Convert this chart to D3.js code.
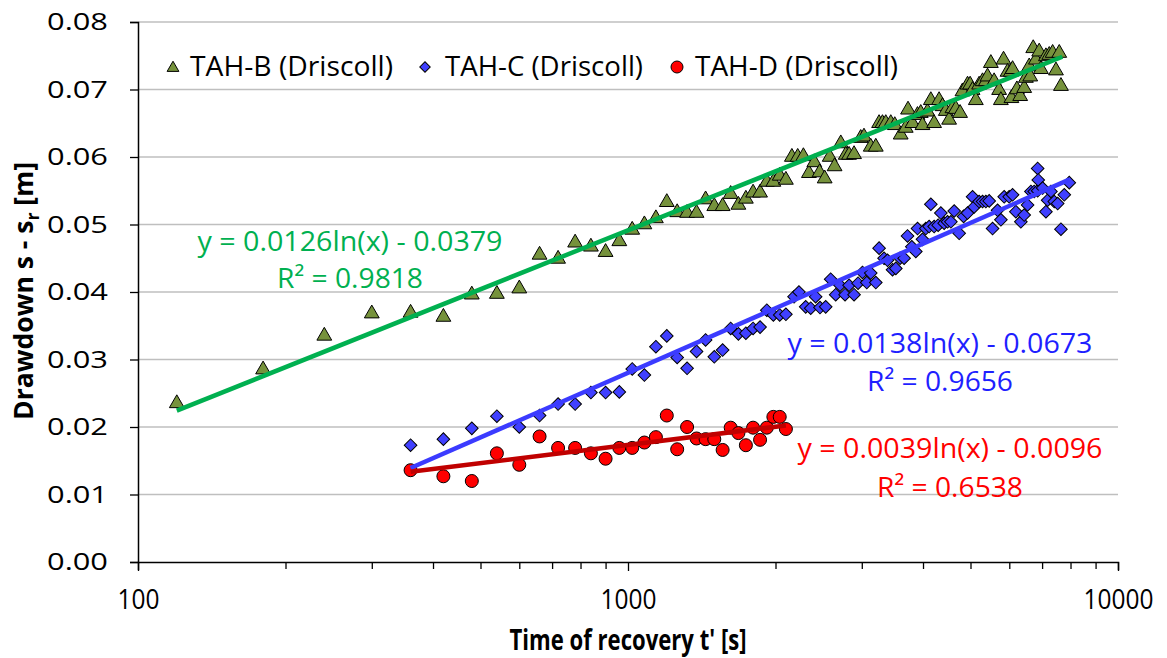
<!DOCTYPE html>
<html><head><meta charset="utf-8">
<script src="https://cdn.jsdelivr.net/npm/d3@7"></script>
<style>body{margin:0;background:#fff}svg{display:block}text{font-family:"Open Sans",sans-serif}</style>
</head><body><svg id="c" width="1167" height="658"></svg>
<script>
const seriesNames = ["TAH-B (Driscoll)", "TAH-C (Driscoll)", "TAH-D (Driscoll)"];

const tahBTime = [120,180,240,300,360,420,480,540,600,660,720,780,840,900,960,1020,1080,1140,1200,1260,1320,1380,1440,1500,1560,1620,1680,1740,1800,1860,1920,1980,2040,2100,2160,2220,2280,2340,2400,2460,2520,2580,2640,
  2718,2782,2826,2893,2985,3031,3129,3204,3254,3306,3358,3438,3503,3602,3688,3728,3806,3897,3958,3990,4085,4150,4214,4314,4384,4452,4522,4594,4667,4761,4815,4931,4991,5048,5127,5207,5291,5374,5417,5502,5587,5720,5767,5840,5951,6044,6093,6060,6218,6315,6435,6487,6589,6620,6714,6799,6905,6961,7127,7239,7355,7471,7588,7648];
const tahBDrawdown = [0.0235,0.0285,0.0335,0.0368,0.0369,0.0363,0.0396,0.0397,0.0405,0.0455,0.0449,0.0473,0.0467,0.0459,0.0475,0.0492,0.0500,0.0509,0.0533,0.0518,0.0517,0.0517,0.0537,0.0527,0.0527,0.0545,0.0529,0.0538,0.0547,0.0547,0.0563,0.0563,0.0572,0.0566,0.0600,0.0600,0.0601,0.0576,0.0592,0.0577,0.0568,0.0600,0.0586,
  0.0620,0.0603,0.0603,0.0604,0.0628,0.0630,0.0615,0.0615,0.0650,0.0650,0.0650,0.0650,0.0647,0.0633,0.0643,0.0670,0.0650,0.0662,0.0665,0.0647,0.0667,0.0684,0.0650,0.0684,0.0675,0.0668,0.0655,0.0672,0.0671,0.0665,0.0697,0.0707,0.0707,0.0699,0.0684,0.0707,0.0712,0.0712,0.0719,0.0739,0.0712,0.0699,0.0684,0.0744,0.0726,0.0726,0.0730,0.0687,0.0700,0.0690,0.0702,0.0717,0.0734,0.0719,0.0761,0.0744,0.0756,0.0730,0.0749,0.0751,0.0754,0.0728,0.0754,0.0705];

const tahCTime = [360,420,480,540,600,660,720,780,840,900,960,1020,1080,1140,1200,1260,1320,1380,1440,1500,1560,1620,1680,1740,1800,1860,1920,1980,2040,2100,2182,2233,2305,2360,2415,2465,2532,2592,2654,2708,2773,2826,2893,2948,3010,3071,3129,3204,3254,3331,3385,3466,3520,3592,3660,3719,3795,3867,3898,3990,4053,4117,4150,4215,4295,4350,4418,4489,4560,4631,4741,4840,4932,5049,5086,5207,5291,5374,5459,5546,5678,5768,5858,5997,6093,6188,6335,6435,6538,6642,6745,6855,6855,6874,7018,7127,7185,7297,7412,7531,7648,7769,7953];
const tahCDrawdown = [0.0173,0.0182,0.0198,0.0216,0.0200,0.0217,0.0234,0.0234,0.0251,0.0251,0.0252,0.0286,0.0277,0.0319,0.0335,0.0303,0.0287,0.0312,0.0329,0.0304,0.0314,0.0346,0.0338,0.0339,0.0346,0.0348,0.0373,0.0366,0.0366,0.0367,0.0393,0.0400,0.0378,0.0376,0.0393,0.0377,0.0378,0.0419,0.0396,0.0410,0.0396,0.0410,0.0396,0.0413,0.0429,0.0414,0.0428,0.0414,0.0465,0.0450,0.0447,0.0433,0.0435,0.0450,0.0450,0.0483,0.0467,0.0460,0.0494,0.0478,0.0494,0.0497,0.0530,0.0497,0.0499,0.0517,0.0502,0.0504,0.0504,0.0520,0.0487,0.0512,0.0517,0.0541,0.0526,0.0534,0.0534,0.0534,0.0535,0.0494,0.0521,0.0507,0.0541,0.0541,0.0544,0.0519,0.0504,0.0514,0.0529,0.0549,0.0549,0.0550,0.0583,0.0566,0.0554,0.0519,0.0536,0.0549,0.0534,0.0531,0.0493,0.0544,0.0562];

const tahDTime = [360,420,480,540,600,660,720,780,840,900,960,1020,1080,1140,1200,1260,1320,1380,1440,1500,1560,1620,1680,1740,1800,1860,1920,1980,2040,2100];
const tahDDrawdown = [0.0136,0.0127,0.0120,0.0161,0.0144,0.0186,0.0169,0.0169,0.0161,0.0153,0.0169,0.0169,0.0177,0.0185,0.0217,0.0167,0.0200,0.0183,0.0182,0.0182,0.0166,0.0199,0.0191,0.0173,0.0199,0.0181,0.0199,0.0215,0.0215,0.0197];

const fitSlope = [0.0126, 0.0138, 0.0039];
const fitIntercept = [-0.0379, -0.0673, -0.0096];
const fitRange = [[120, 7700], [360, 7953], [360, 2100]];
const fitEquation = ["y = 0.0126ln(x) - 0.0379", "y = 0.0138ln(x) - 0.0673", "y = 0.0039ln(x) - 0.0096"];
const fitR2 = ["R² = 0.9818", "R² = 0.9656", "R² = 0.6538"];

const yTicks = [0, 0.01, 0.02, 0.03, 0.04, 0.05, 0.06, 0.07, 0.08];
const xMajorTicks = [100, 1000, 10000];
const xTickLabels = ["100", "1000", "10000"];
const xMinorTicks = [200,300,400,500,600,700,800,900,2000,3000,4000,5000,6000,7000,8000,9000];

const svg = d3.select("#c");
svg.append("rect").attr("width",1167).attr("height",658).attr("fill","#fff");

const x = d3.scaleLog().domain([100, 10000]).range([138, 1118]);
const y = d3.scaleLinear().domain([0, 0.08]).range([562, 22]);

// gridlines
svg.append("g").selectAll("line").data(yTicks.filter(d => d > 0)).join("line")
  .attr("x1", 138).attr("x2", 1118).attr("y1", d => y(d)).attr("y2", d => y(d))
  .attr("stroke", "#BFBFBF").attr("stroke-width", 1.5);

// y axis
const yAxis = svg.append("g").attr("transform", "translate(138,0)")
  .call(d3.axisLeft(y).tickValues(yTicks).tickFormat(d3.format(".2f")).tickSize(8).tickPadding(22));
yAxis.select(".domain").attr("stroke", "#000").attr("stroke-width", 1.5);
yAxis.selectAll(".tick line").attr("stroke", "#000").attr("stroke-width", 1.3);
yAxis.selectAll(".tick text").attr("font-size", 24).attr("fill", "#000")
  .attr("font-family", "'Open Sans', sans-serif")
  .attr("textLength", 61).attr("lengthAdjust", "spacingAndGlyphs");

// x axis
const allXTicks = xMajorTicks.concat(xMinorTicks);
const xAxis = svg.append("g").attr("transform", "translate(0,562)")
  .call(d3.axisBottom(x).tickValues(allXTicks)
    .tickFormat(d => { const i = xMajorTicks.indexOf(d); return i >= 0 ? xTickLabels[i] : ""; })
    .tickSize(8).tickPadding(19));
xAxis.select(".domain").attr("stroke", "#000").attr("stroke-width", 1.5);
xAxis.selectAll(".tick line").attr("stroke", "#000").attr("stroke-width", 1.3)
  .attr("y2", d => xMajorTicks.includes(d) ? 9 : 7);
xAxis.selectAll(".tick text").attr("font-size", 28).attr("fill", "#000")
  .attr("font-family", "'Open Sans', sans-serif")
  .each(function(d) { const i = xMajorTicks.indexOf(d); if (i >= 0) d3.select(this).attr("textLength", 14 * xTickLabels[i].length).attr("lengthAdjust", "spacingAndGlyphs"); });

// axis titles
svg.append("text").attr("x", 628).attr("y", 650).attr("text-anchor", "middle")
  .attr("font-size", 28).attr("font-weight", "bold").attr("fill", "#000")
  .attr("textLength", 237).attr("lengthAdjust", "spacingAndGlyphs")
  .text("Time of recovery t' [s]");
const yt = svg.append("text").attr("transform", "translate(33,291) rotate(-90)").attr("text-anchor", "middle")
  .attr("font-size", 27).attr("font-weight", "bold").attr("fill", "#000")
  .attr("textLength", 258).attr("lengthAdjust", "spacingAndGlyphs");
yt.append("tspan").text("Drawdown s - s");
yt.append("tspan").attr("font-size", 18).attr("dy", 6).text("r");
yt.append("tspan").attr("dy", -6).text(" [m]");

// markers
const triangle = d3.symbol().type(d3.symbolTriangle).size(95);
const square = d3.symbol().type(d3.symbolSquare).size(80);
const seriesData = [
  tahBTime.map((t, i) => [t, tahBDrawdown[i]]),
  tahCTime.map((t, i) => [t, tahCDrawdown[i]]),
  tahDTime.map((t, i) => [t, tahDDrawdown[i]])
];
svg.append("g").selectAll("path").data(seriesData[0]).join("path")
  .attr("d", triangle).attr("transform", d => `translate(${x(d[0])},${y(d[1])})`)
  .attr("fill", "#76923C").attr("stroke", "#000").attr("stroke-width", 1);
svg.append("g").selectAll("path").data(seriesData[1]).join("path")
  .attr("d", square).attr("transform", d => `translate(${x(d[0])},${y(d[1])}) rotate(45)`)
  .attr("fill", "#4040FF").attr("stroke", "#000").attr("stroke-width", 1);
svg.append("g").selectAll("circle").data(seriesData[2]).join("circle")
  .attr("cx", d => x(d[0])).attr("cy", d => y(d[1])).attr("r", 6.5)
  .attr("fill", "#FF0000").attr("stroke", "#000").attr("stroke-width", 1);

// trendlines
const lineColors = ["#00B050", "#3B3BFF", "#C00000"];
const line = d3.line().x(d => x(d[0])).y(d => y(d[1]));
fitRange.forEach((r, i) => {
  const pts = r.map(t => [t, fitSlope[i] * Math.log(t) + fitIntercept[i]]);
  svg.append("path").attr("d", line(pts)).attr("fill", "none")
    .attr("stroke", lineColors[i]).attr("stroke-width", 4.5);
});

// equation labels
const eqColors = ["#00B050", "#1F1FFF", "#FF0000"];
const eqPos = [[350, 251, 288], [940, 353, 391], [950, 458, 497]];
fitEquation.forEach((s, i) => {
  svg.append("text").attr("x", eqPos[i][0]).attr("y", eqPos[i][1]).attr("text-anchor", "middle")
    .attr("font-size", 28).attr("fill", eqColors[i])
    .attr("textLength", 305).attr("lengthAdjust", "spacingAndGlyphs").text(s);
  svg.append("text").attr("x", eqPos[i][0]).attr("y", eqPos[i][2]).attr("text-anchor", "middle")
    .attr("font-size", 28).attr("fill", eqColors[i])
    .attr("textLength", 146).attr("lengthAdjust", "spacingAndGlyphs").text(fitR2[i]);
});

// legend
const legX = [173, 425, 677];
const legTextX = [190, 445, 695];
const legW = [203, 198, 203];
const leg = svg.append("g");
leg.append("path").attr("d", d3.symbol().type(d3.symbolTriangle).size(60)())
  .attr("transform", `translate(${legX[0]},68)`).attr("fill", "#76923C").attr("stroke", "#000");
leg.append("path").attr("d", d3.symbol().type(d3.symbolSquare).size(55)())
  .attr("transform", `translate(${legX[1]},67) rotate(45)`).attr("fill", "#4040FF").attr("stroke", "#000");
leg.append("circle").attr("cx", legX[2]).attr("cy", 67).attr("r", 6)
  .attr("fill", "#FF0000").attr("stroke", "#000");
seriesNames.forEach((s, i) => {
  leg.append("text").attr("x", legTextX[i]).attr("y", 76).attr("font-size", 27).attr("fill", "#000")
    .attr("textLength", legW[i]).attr("lengthAdjust", "spacingAndGlyphs").text(s);
});
</script></body></html>
